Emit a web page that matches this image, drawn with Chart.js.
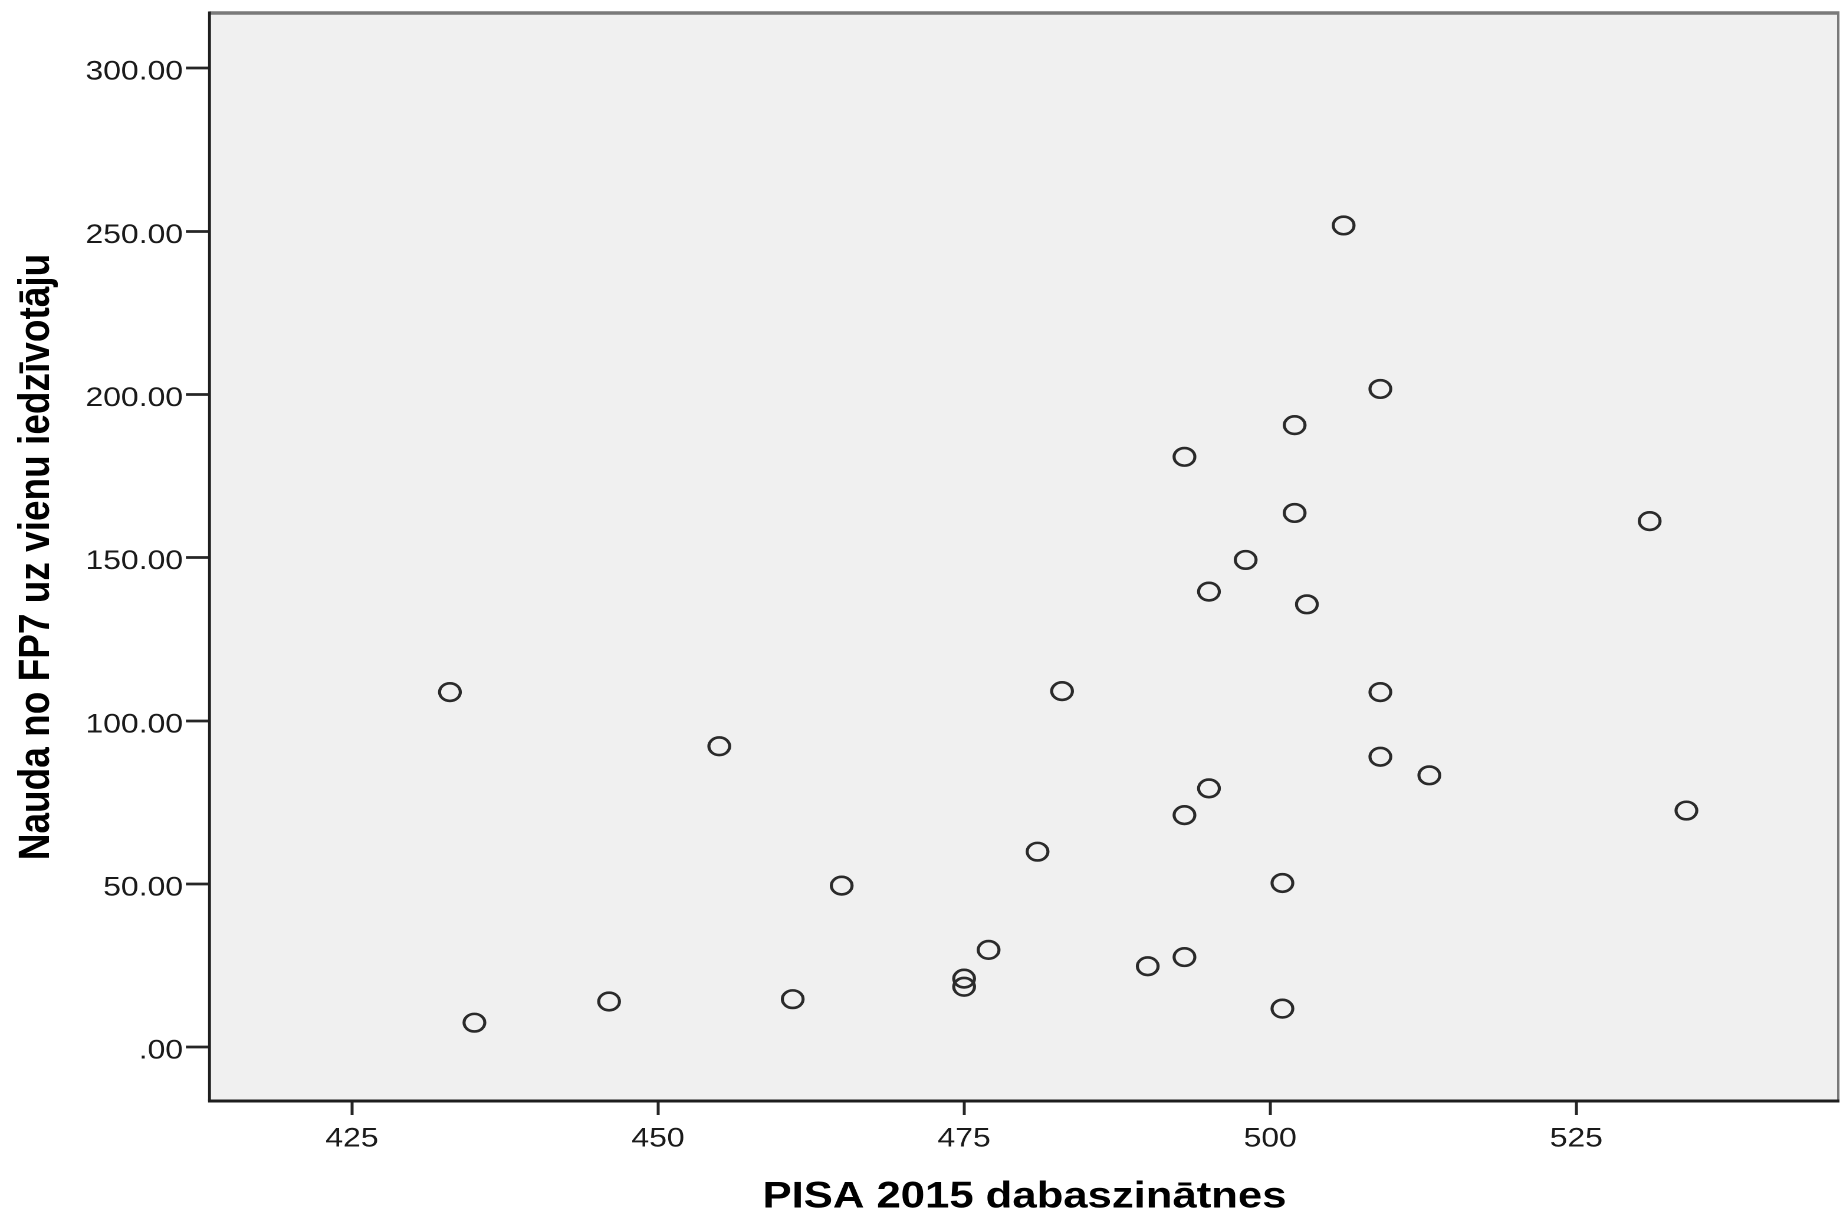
<!DOCTYPE html>
<html><head><meta charset="utf-8">
<script src="https://cdn.jsdelivr.net/npm/chart.js@4.4.0/dist/chart.umd.min.js"></script>
<style>
html,body{margin:0;padding:0;background:#fff;overflow:hidden;}
#wrap{width:1560px;height:1215px;transform:scaleX(1.1795);transform-origin:0 0;}
canvas{display:block;}
</style></head><body>
<div id="wrap"><canvas id="c" width="1560" height="1215"></canvas></div>
<script>
// Data
const pisaScores = [433, 435, 446, 455, 461, 465, 475, 475, 477, 481, 483, 490, 493, 493, 493, 495, 495, 498, 501, 501, 502, 502, 503, 506, 509, 509, 509, 513, 531, 534];
const fundingPerCapita = [108.8, 7.5, 14.0, 92.2, 14.7, 49.5, 21.0, 18.5, 29.8, 59.9, 109.1, 24.8, 27.6, 71.1, 180.9, 79.3, 139.6, 149.3, 50.3, 11.8, 190.6, 163.7, 135.7, 251.8, 201.7, 108.8, 89.0, 83.3, 161.2, 72.5];
const xTickValues = [425, 450, 475, 500, 525];
const xTickLabels = ['425', '450', '475', '500', '525'];
const yTickValues = [0, 50, 100, 150, 200, 250, 300];
const yTickLabels = ['.00', '50.00', '100.00', '150.00', '200.00', '250.00', '300.00'];
const xAxisTitle = 'PISA 2015 dabaszinātnes';
const yAxisTitle = 'Nauda no FP7 uz vienu iedzīvotāju';

const FONT = "'Liberation Sans', Arial, sans-serif";

const frameBg = {
  id: 'frameBg',
  beforeDraw(chart) {
    const {ctx, chartArea: a} = chart;
    ctx.save();
    ctx.fillStyle = '#ffffff';
    ctx.fillRect(0, 0, chart.width, chart.height);
    ctx.fillStyle = '#f0f0f0';
    ctx.fillRect(a.left, a.top, a.right - a.left, a.bottom - a.top);
    ctx.restore();
  },
  afterDraw(chart) {
    const {ctx, chartArea: a} = chart;
    ctx.save();
    ctx.strokeStyle = '#7a7a7a';
    ctx.lineWidth = 3.5;
    ctx.beginPath();
    ctx.moveTo(a.left, a.top); ctx.lineTo(a.right, a.top);
    ctx.stroke();
    ctx.lineWidth = 2;
    ctx.beginPath();
    ctx.moveTo(a.right - 1, a.top); ctx.lineTo(a.right - 1, a.bottom);
    ctx.stroke();
    ctx.strokeStyle = '#1e1e1e';
    ctx.lineWidth = 2.4;
    ctx.beginPath();
    ctx.moveTo(a.left, a.top - 1.5); ctx.lineTo(a.left, a.bottom);
    ctx.stroke();
    ctx.lineWidth = 3;
    ctx.beginPath();
    ctx.moveTo(a.left - 1.2, a.bottom); ctx.lineTo(a.right, a.bottom);
    ctx.stroke();
    ctx.restore();
  }
};

new Chart(document.getElementById('c'), {
  type: 'scatter',
  data: {
    datasets: [{
      data: pisaScores.map((x, i) => ({x: x, y: fundingPerCapita[i]})),
      pointStyle: 'circle',
      pointRadius: 8.8,
      pointBorderWidth: 2.6,
      pointBorderColor: '#2a2a2a',
      pointBackgroundColor: 'rgba(0,0,0,0)',
      pointHoverRadius: 8.8
    }]
  },
  options: {
    responsive: false,
    animation: false,
    devicePixelRatio: 2,
    layout: {autoPadding: false, padding: {top: 13, right: 0.5, left: 0, bottom: 0}},
    plugins: {legend: {display: false}, tooltip: {enabled: false}},
    scales: {
      x: {
        type: 'linear',
        min: 413.36,
        max: 546.5,
        afterBuildTicks(s) { s.ticks = xTickValues.map(v => ({value: v})); },
        afterFit(s) { s.height = 114; s.paddingLeft = 0; s.paddingRight = 0; },
        border: {display: false},
        grid: {drawOnChartArea: false, drawTicks: true, tickLength: 14, tickColor: '#262626', tickWidth: 2.5},
        ticks: {
          autoSkip: false, maxRotation: 0, padding: 8, color: '#1a1a1a',
          font: {family: FONT, size: 27},
          callback: (v) => { const i = xTickValues.indexOf(v); return i >= 0 ? xTickLabels[i] : ''; }
        },
        title: {display: true, text: xAxisTitle, color: '#000', padding: {top: 0, bottom: 2.7},
          font: {family: FONT, size: 37, weight: 'bold', lineHeight: 0.8}}
      },
      y: {
        type: 'linear',
        min: -16.5,
        max: 316.9,
        afterBuildTicks(s) { s.ticks = yTickValues.map(v => ({value: v})); },
        afterFit(s) { s.width = 177.6; s.paddingTop = 0; s.paddingBottom = 0; },
        border: {display: false},
        grid: {drawOnChartArea: false, drawTicks: true, tickLength: 20, tickColor: '#262626', tickWidth: 2.8},
        ticks: {
          autoSkip: false, padding: 2.5, labelOffset: 4, color: '#1a1a1a',
          font: {family: FONT, size: 27},
          callback: (v) => { const i = yTickValues.indexOf(v); return i >= 0 ? yTickLabels[i] : ''; }
        },
        title: {display: true, text: yAxisTitle, color: '#000', padding: {top: 12.8, bottom: 0},
          font: {family: FONT, size: 37, weight: 'bold', lineHeight: 1}}
      }
    }
  },
  plugins: [frameBg]
});
</script>
</body></html>
